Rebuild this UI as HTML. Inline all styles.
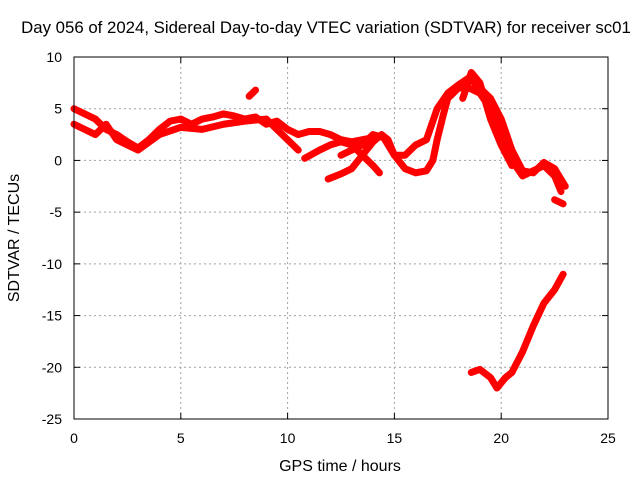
<!DOCTYPE html>
<html><head><meta charset="utf-8"><style>
body{margin:0;background:#fff}
svg{display:block;font-family:"Liberation Sans",sans-serif}
</style></head><body>
<svg id="chart" width="640" height="480" xmlns="http://www.w3.org/2000/svg">
<rect x="0" y="0" width="640" height="480" fill="#fff"/>
<text x="326" y="33" font-size="16.8" text-anchor="middle">Day 056 of 2024, Sidereal Day-to-day VTEC variation (SDTVAR) for receiver sc01</text>
<g id="grid"></g><g id="ticks"></g><g id="series"></g>
<rect x="74" y="57" width="534" height="362" fill="none" stroke="#000"/>
<text x="340" y="471" font-size="16" text-anchor="middle">GPS time / hours</text>
<text transform="translate(19,238) rotate(-90)" font-size="16" text-anchor="middle">SDTVAR / TECUs</text>
</svg>
<script>
const xTicks=[0,5,10,15,20,25];
const yTicks=[10,5,0,-5,-10,-15,-20,-25];
const traceA=[[0,5],[0.5,4.5],[1,4],[1.5,3],[2,2.5],[2.5,1.8],[3,1.2],[3.5,2],[4,3],[4.5,3.8],[5,4],[5.5,3.5],[6,4],[6.5,4.2],[7,4.5],[7.5,4.3],[8,4],[8.5,4.2],[9,3.5],[9.5,3.8],[10,3],[10.5,2.5],[11,2.8],[11.5,2.8],[12,2.5],[12.5,2],[13,1.8],[13.5,2],[14,2.2]];
const traceB=[[0,3.5],[0.5,3],[1,2.5],[1.5,3.5],[2,2],[2.5,1.5],[3,1],[4,2.5],[5,3.2],[6,3],[7,3.5],[8,3.8],[9,4],[9.5,3],[10,2],[10.5,1]];
const traceC=[[10.8,0.2],[11.5,1],[12,1.5],[12.5,1.8],[13,1.5],[13.5,0.5],[14,-0.5],[14.3,-1.2]];
const traceD=[[11.9,-1.8],[12.5,-1.3],[13,-0.8],[13.5,0.5],[14,1.8],[14.4,2.5],[14.7,2],[15,0.5],[15.5,-0.8],[16,-1.2],[16.5,-1],[16.8,0],[17,2],[17.3,4.5],[17.5,6],[18,7],[18.5,7],[19,6.5],[19.5,5],[20,3],[20.5,0],[21,-1.5],[21.5,-1],[22,-0.5],[22.5,-1.5],[22.8,-3]];
const traceE=[[12.5,0.5],[13,1],[13.5,1.5],[14,2.5],[14.5,2.2],[15,0.5],[15.5,0.5],[16,1.5],[16.5,2],[17,5],[17.5,6.5],[18,7.3],[18.5,8],[19,7],[19.5,6],[20,4],[20.5,1],[21,-1],[21.5,-1.2],[22,-0.2],[22.5,-0.8],[23,-2.5]];
const traceF=[[18.2,6],[18.6,8.5],[19,7.5],[19.5,4],[20,1.5],[20.5,-0.5]];
const traceG=[[22.5,-3.8],[22.9,-4.2]];
const traceH=[[8.2,6.2],[8.5,6.8]];
const traceI=[[18.6,-20.5],[19,-20.2],[19.5,-21],[19.8,-22],[20.2,-21],[20.5,-20.5],[21,-18.5],[21.5,-16],[22,-13.8],[22.5,-12.5],[22.9,-11]];
const traces=[traceA,traceB,traceC,traceD,traceE,traceF,traceG,traceH,traceI];
const NS='http://www.w3.org/2000/svg';
const X0=74,X1=608,Y0=57,Y1=419;
function sx(t){return X0+(t-0)/(25-0)*(X1-X0);}
function sy(v){return Y1-(v+25)/(35)*(Y1-Y0);}
const grid=document.getElementById('grid'),ticks=document.getElementById('ticks'),ser=document.getElementById('series');
function mk(tag,attrs,parent){const e=document.createElementNS(NS,tag);for(const k in attrs)e.setAttribute(k,attrs[k]);parent.appendChild(e);return e;}
xTicks.forEach(t=>{const x=sx(t);
 if(t>0&&t<25){const g=mk('line',{x1:x,x2:x,y1:Y0,y2:Y1,stroke:'#a0a0a0','stroke-dasharray':'2,3'},grid);}
 const l=mk('text',{x:x,y:443,'font-size':14,'text-anchor':'middle'},ticks);l.textContent=t;
 
 mk('line',{x1:x,x2:x,y1:Y1,y2:Y1-6,stroke:'#000'},ticks);mk('line',{x1:x,x2:x,y1:Y0,y2:Y0+6,stroke:'#000'},ticks);});
yTicks.forEach(v=>{const y=sy(v);
 if(v<10&&v>-25){const g=mk('line',{x1:X0,x2:X1,y1:y,y2:y,stroke:'#a0a0a0','stroke-dasharray':'2,3'},grid);}
 const l=mk('text',{x:62,y:y+5,'font-size':14,'text-anchor':'end'},ticks);l.textContent=v;
 
 mk('line',{x1:X0,x2:X0+6,y1:y,y2:y,stroke:'#000'},ticks);mk('line',{x1:X1,x2:X1-6,y1:y,y2:y,stroke:'#000'},ticks);});
traces.forEach(tr=>{const p=mk('polyline',{points:tr.map(d=>sx(d[0])+','+sy(d[1])).join(' '),fill:'none',stroke:'#ff0000','stroke-width':7,'stroke-linejoin':'round','stroke-linecap':'round'},ser);
 });
</script>
</body></html>
